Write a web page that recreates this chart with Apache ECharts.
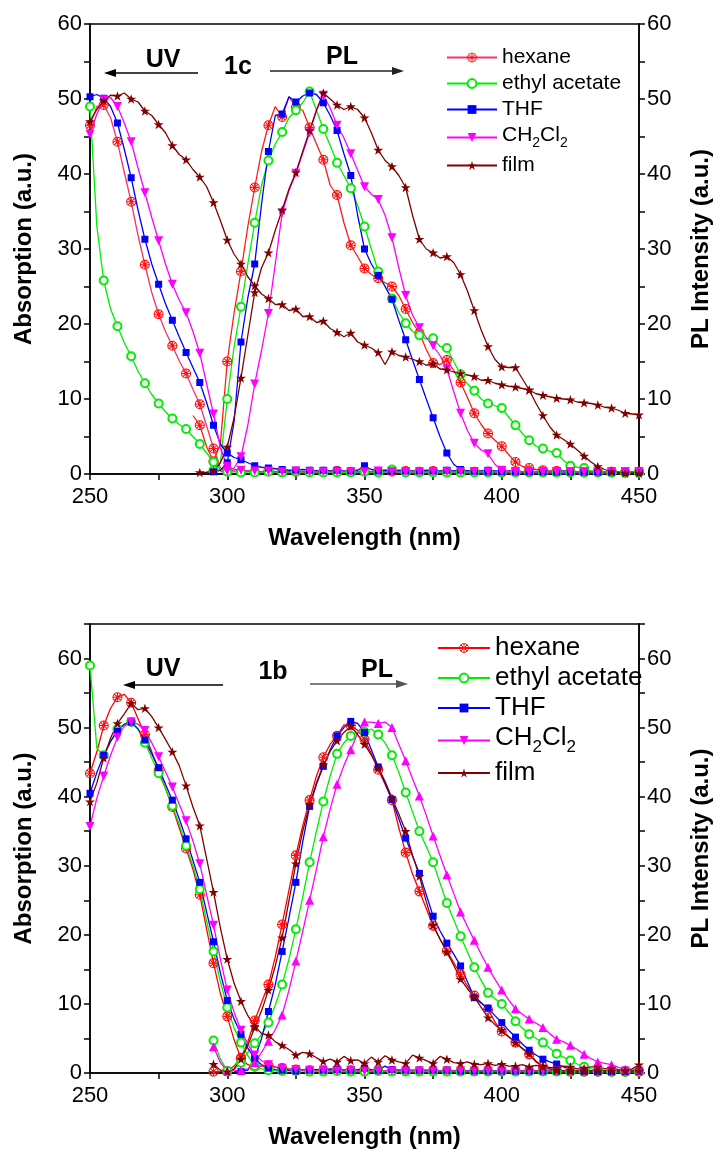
<!DOCTYPE html>
<html><head><meta charset="utf-8">
<script src="https://cdn.jsdelivr.net/npm/echarts@6/dist/echarts.min.js"></script>
<style>html,body{margin:0;padding:0;background:#fff}#c{width:721px;height:1158px}</style>
</head><body><div id="c"></div>
<script>
// common wavelength grid (nm), rows of 8 points = 20 nm
const wavelength = [
250,252.5,255,257.5,260,262.5,265,267.5,
270,272.5,275,277.5,280,282.5,285,287.5,
290,292.5,295,297.5,300,302.5,305,307.5,
310,312.5,315,317.5,320,322.5,325,327.5,
330,332.5,335,337.5,340,342.5,345,347.5,
350,352.5,355,357.5,360,362.5,365,367.5,
370,372.5,375,377.5,380,382.5,385,387.5,
390,392.5,395,397.5,400,402.5,405,407.5,
410,412.5,415,417.5,420,422.5,425,427.5,
430,432.5,435,437.5,440,442.5,445,447.5,
450];
const xTicks = [250,300,350,400,450];
const yTicks = [0,10,20,30,40,50,60];
const names = ['hexane','ethyl acetate','THF','CH2Cl2','film'];
const N = null;

// ===== panel 1c (top) =====
const c_hexane_uv = [
46.5,49.0,49.2,47.5,44.3,40.2,36.3,31.8,
27.9,24.2,21.3,19.0,17.1,15.1,13.4,11.3,
9.3,6.4,3.4,0.8,0.5,0.4,0.3,0.4,
0.3,0.3,0.4,0.3,0.3,0.4,0.3,0.3,
0.3,0.4,0.3,0.3,0.4,0.3,0.3,0.3,
0.4,0.3,0.3,0.5,0.3,0.3,0.4,0.3,
0.3,0.3,0.4,0.3,0.3,0.3,0.3,0.3,
0.3,0.3,0.3,0.3,0.2,0.3,0.3,0.3,
0.3,0.2,0.3,0.3,0.3,0.2,0.3,0.3,
0.2,0.3,0.3,0.2,0.3,0.3,0.2,0.3,
0.3];
const c_hexane_pl = [
N,N,N,N,N,N,N,N,
N,N,N,N,N,N,N,7.8,
6.5,3.6,1.7,4.0,15.0,21.5,27.0,33.0,
38.2,43.0,46.5,49.0,47.6,50.3,48.9,48.5,
46.2,44.0,41.9,38.5,37.2,33.5,30.5,29.0,
27.4,26.6,26.1,25.5,25.0,23.8,22.0,20.2,
18.8,16.6,14.8,14.6,15.2,13.8,12.2,10.2,
8.1,6.6,5.4,4.5,3.7,2.6,1.6,1.0,
0.8,0.6,0.5,0.4,0.4,0.3,0.3,0.3,
0.3,0.3,0.3,0.2,0.3,0.3,0.2,0.3,
0.3];
const c_ea_uv = [
49.0,33.0,25.8,22.0,19.7,17.5,15.7,13.7,
12.1,10.6,9.4,8.3,7.4,6.6,6.0,5.0,
4.0,2.8,1.6,0.6,0.3,0.3,0.2,0.3,
0.2,0.2,0.3,0.2,0.2,0.2,0.3,0.2,
0.2,0.2,0.2,0.3,0.2,0.2,0.2,0.2,
0.3,0.2,0.2,0.2,0.6,0.2,0.2,0.2,
0.2,0.2,0.2,0.2,0.2,0.2,0.2,0.2,
0.2,0.2,0.2,0.2,0.2,0.2,0.2,0.2,
0.2,0.2,0.2,0.2,0.2,0.2,0.2,0.2,
0.2,0.2,0.2,0.2,0.2,0.2,0.2,0.2,
0.2];
const c_ea_pl = [
N,N,N,N,N,N,N,N,
N,N,N,N,N,N,N,N,
N,0.3,0.5,1.5,10.0,17.0,22.3,28.0,
33.5,38.5,41.8,44.0,45.6,47.5,48.5,49.5,
51.0,48.5,46.0,43.8,41.5,39.8,38.1,35.8,
33.0,30.0,27.0,25.0,23.4,21.5,20.1,19.0,
18.5,18.0,18.1,17.0,16.8,15.0,13.3,12.0,
11.1,10.0,9.4,9.1,8.8,7.6,6.5,5.4,
4.5,3.7,3.4,3.0,2.8,1.8,1.1,0.9,
0.8,0.4,0.3,0.2,0.2,0.2,0.2,0.2,
0.2];
const c_thf_uv = [
50.3,50.6,50.1,49.0,46.8,43.3,39.5,35.2,
31.3,28.0,25.3,22.7,20.5,18.3,16.2,14.2,
12.2,9.5,6.5,4.0,2.8,2.2,1.9,1.5,
1.1,0.9,0.8,0.7,0.6,0.5,0.5,0.6,
0.5,0.4,0.5,0.4,0.5,0.4,0.4,0.5,
1.1,0.6,0.4,0.5,0.4,0.5,0.4,0.4,
0.4,0.5,0.4,0.4,0.5,0.4,0.5,0.4,
0.4,0.4,0.5,0.4,0.4,0.4,0.4,0.3,
0.4,0.3,0.4,0.3,0.3,0.4,0.3,0.3,
0.3,0.3,0.3,0.3,0.3,0.3,0.3,0.3,
0.3];
const c_thf_pl = [
N,N,N,N,N,N,N,N,
N,N,N,N,N,N,N,N,
N,N,0.3,0.5,1.5,7.0,17.6,23.5,
28.0,36.0,43.0,47.8,48.0,50.3,49.6,50.4,
50.8,50.6,49.5,47.8,45.8,42.7,39.8,34.5,
30.0,28.0,26.5,25.0,23.3,20.5,17.9,15.2,
12.6,10.0,7.5,5.0,2.8,1.3,0.6,0.4,
0.4,0.3,0.3,0.3,0.3,0.3,0.3,0.3,
0.3,0.3,0.3,0.3,0.3,0.3,0.3,0.3,
0.3,0.3,0.3,0.3,0.3,0.3,0.3,0.3,
0.3];
const c_ch_uv = [
45.3,48.0,49.9,50.2,49.0,46.8,44.3,40.8,
37.5,34.2,31.1,28.0,25.3,23.2,21.5,19.0,
16.1,12.0,8.0,3.5,1.0,0.6,0.5,0.4,
0.4,0.3,0.4,0.3,0.3,0.3,0.4,0.3,
0.3,0.3,0.3,0.3,0.3,0.4,0.3,0.3,
0.3,0.3,0.4,0.3,0.3,0.3,0.3,0.3,
0.3,0.3,0.3,0.3,0.3,0.3,0.3,0.3,
0.3,0.3,0.3,0.3,0.3,0.3,0.3,0.3,
0.3,0.3,0.3,0.3,0.3,0.3,0.3,0.3,
0.3,0.3,0.3,0.3,0.3,0.3,0.3,0.3,
0.3];
const c_ch_pl = [
N,N,N,N,N,N,N,N,
N,N,N,N,N,N,N,N,
N,N,N,0.3,0.4,0.8,2.3,6.5,
12.0,16.5,21.4,28.0,34.8,37.8,40.1,42.8,
45.5,48.5,50.5,48.8,46.5,44.8,42.7,40.5,
38.3,37.3,36.6,34.5,31.5,27.5,23.8,21.2,
19.5,18.2,17.1,15.8,14.0,11.0,8.1,5.8,
4.1,3.2,2.7,1.3,0.5,0.4,0.3,0.3,
0.3,0.3,0.3,0.3,0.3,0.3,0.3,0.3,
0.3,0.3,0.3,0.3,0.3,0.3,0.3,0.3,
0.3];
const c_film_uv = [
47.0,48.6,49.8,50.5,50.4,50.8,50.0,49.6,
48.4,47.8,46.6,45.5,43.8,42.6,41.9,40.6,
39.6,38.3,36.2,33.8,31.2,29.3,28.0,26.3,
25.1,24.0,23.4,22.6,22.6,21.8,22.0,21.0,
21.0,20.2,20.4,19.4,18.9,18.3,18.8,17.6,
17.2,16.8,16.2,14.6,16.3,15.8,15.6,15.3,
15.0,14.5,14.7,14.0,13.9,13.6,13.4,13.2,
13.0,12.5,12.5,12.1,11.9,11.7,11.6,11.4,
11.2,10.7,10.5,10.3,10.1,10.0,9.9,9.6,
9.5,9.4,9.2,8.9,8.8,8.5,8.1,8.0,
7.9];
const c_film_pl = [
N,N,N,N,N,N,N,N,
N,N,N,N,N,N,N,N,
0.2,0.2,0.4,1.5,3.6,7.5,12.8,18.5,
24.2,27.5,29.5,32.5,35.2,38.0,40.2,43.0,
45.8,48.5,50.8,50.0,49.2,48.6,49.0,48.6,
47.5,45.5,43.2,41.8,41.0,39.8,38.2,34.5,
31.3,30.0,29.5,28.8,29.0,28.2,26.6,24.4,
21.8,19.2,17.0,15.3,14.3,14.2,14.2,12.7,
11.2,9.4,7.8,6.3,5.2,4.6,4.0,3.2,
2.4,1.6,1.0,0.6,0.3,0.2,0.1,0.1,
0.1];

// ===== panel 1b (bottom) =====
const b_hexane_uv = [
43.4,46.5,50.3,52.8,54.4,54.8,53.6,51.3,
49.0,46.5,43.8,41.2,38.5,35.5,32.5,29.5,
25.8,20.8,15.9,11.5,8.2,4.8,2.1,1.2,
0.9,1.0,1.1,0.8,0.7,0.6,0.5,0.5,
0.4,0.5,0.4,0.4,0.5,0.4,0.4,0.4,
0.4,0.3,0.4,0.3,0.3,0.4,0.3,0.3,
0.3,0.3,0.3,0.3,0.3,0.3,0.3,0.3,
0.3,0.3,0.3,0.3,0.3,0.3,0.3,0.3,
0.3,0.3,0.3,0.3,0.3,0.3,0.3,0.3,
0.3,0.3,0.3,0.3,0.3,0.3,0.3,0.3,
0.3];
const b_hexane_pl = [
N,N,N,N,N,N,N,N,
N,N,N,N,N,N,N,N,
N,N,0.2,0.2,0.3,1.0,2.2,4.5,
7.6,10.2,12.8,16.8,21.5,26.5,31.5,35.8,
39.5,43.0,45.7,47.6,48.8,50.4,50.3,49.6,
48.3,46.2,43.9,41.8,39.5,35.5,31.9,28.8,
26.3,23.8,21.3,19.4,17.7,16.0,14.3,12.6,
11.2,10.2,9.2,7.4,6.0,5.2,4.4,3.5,
2.7,1.6,0.9,0.6,0.4,0.3,0.2,0.2,
0.2,0.2,0.2,0.2,0.2,0.2,0.2,0.2,
0.2];
const b_ea_uv = [
59.0,47.0,46.0,48.0,49.8,50.5,50.8,49.8,
47.8,45.6,43.4,41.2,38.7,36.0,32.9,30.0,
26.6,22.0,17.6,13.2,9.5,6.5,4.4,2.5,
1.0,0.6,0.4,0.3,0.3,0.3,0.3,0.3,
0.2,0.3,0.2,0.2,0.3,0.2,0.2,0.2,
0.2,0.2,0.3,0.2,0.2,0.2,0.2,0.2,
0.2,0.2,0.2,0.2,0.2,0.2,0.2,0.2,
0.2,0.2,0.2,0.2,0.2,0.2,0.2,0.2,
0.2,0.2,0.2,0.2,0.2,0.2,0.2,0.2,
0.2,0.2,0.2,0.2,0.2,0.2,0.2,0.2,
0.2];
const b_ea_pl = [
N,N,N,N,N,N,N,N,
N,N,N,N,N,N,N,N,
N,N,4.7,2.0,0.3,0.5,1.5,3.0,
4.3,5.6,7.3,9.8,12.8,16.5,20.8,25.5,
30.5,35.0,39.3,43.0,46.2,47.8,48.8,49.2,
49.4,49.8,49.0,47.8,46.0,43.5,40.6,37.8,
35.0,32.8,30.5,27.5,24.6,22.2,19.8,17.5,
15.3,13.4,11.6,10.8,10.0,8.8,7.5,6.5,
5.6,5.0,4.4,3.6,2.8,2.3,1.8,1.3,
0.9,0.6,0.4,0.3,0.2,0.2,0.2,0.2,
0.2];
const b_thf_uv = [
40.5,43.5,46.0,48.0,49.5,50.5,50.8,49.8,
48.2,46.2,44.2,41.8,39.5,36.8,33.9,30.8,
27.6,23.3,19.0,14.5,10.5,7.8,5.6,3.6,
2.1,1.2,0.7,0.5,0.4,0.4,0.3,0.4,
0.4,0.5,0.4,0.6,0.5,0.4,0.4,0.5,
0.7,0.5,0.4,1.0,0.5,0.4,0.4,0.4,
0.4,0.4,0.4,0.3,0.4,0.3,0.3,0.3,
0.3,0.3,0.3,0.3,0.3,0.3,0.3,0.3,
0.3,0.3,0.3,0.3,0.3,0.3,0.3,0.3,
0.3,0.3,0.3,0.3,0.3,0.3,0.3,0.3,
0.3];
const b_thf_pl = [
N,N,N,N,N,N,N,N,
N,N,N,N,N,N,N,N,
N,N,N,N,N,0.2,0.2,0.4,
2.1,5.0,8.9,12.8,17.6,22.5,27.6,33.5,
38.6,41.8,44.4,46.8,48.8,50.0,50.9,50.6,
49.3,46.8,44.3,42.0,39.6,36.8,34.0,31.4,
28.9,25.8,22.7,20.6,18.8,17.2,15.5,13.2,
10.9,10.1,9.4,8.3,7.3,6.2,5.2,4.2,
3.3,2.6,2.0,1.6,1.3,0.9,0.5,0.3,
0.2,0.2,0.2,0.2,0.2,0.2,0.2,0.2,
0.2];
const b_ch_uv = [
35.7,39.8,43.0,46.0,48.6,50.2,50.8,50.5,
49.6,47.8,45.8,43.6,41.4,38.9,36.5,33.6,
30.3,25.8,21.4,16.5,12.0,8.8,6.2,4.2,
2.6,1.8,1.2,0.9,0.7,0.5,0.5,0.4,
0.4,0.3,0.4,0.3,0.3,0.3,0.4,0.3,
0.3,0.3,0.3,0.3,0.3,0.3,0.3,0.3,
0.3,0.3,0.3,0.3,0.3,0.3,0.3,0.3,
0.3,0.3,0.3,0.3,0.3,0.3,0.3,0.3,
0.3,0.3,0.3,0.3,0.3,0.3,0.3,0.3,
0.3,0.3,0.3,0.3,0.3,0.3,0.3,0.3,
0.3];
const b_ch_pl = [
N,N,N,N,N,N,N,N,
N,N,N,N,N,N,N,N,
N,N,3.8,1.5,0.3,0.3,0.4,0.6,
1.5,3.0,4.6,6.3,8.4,12.0,16.2,20.5,
25.0,29.5,34.2,38.2,41.8,44.5,46.8,49.2,
50.8,50.8,50.6,50.8,50.0,47.6,45.2,42.6,
40.1,37.3,34.3,31.5,28.7,26.0,23.3,21.2,
19.2,17.2,15.3,13.6,12.0,10.6,9.3,8.5,
7.8,7.2,6.6,5.7,4.9,4.5,4.0,3.4,
2.7,2.1,1.6,1.4,1.2,0.8,0.5,0.4,
0.4];
const b_film_uv = [
39.3,42.0,45.6,48.5,50.6,52.0,53.5,52.6,
52.8,51.6,50.0,48.3,46.5,44.5,41.6,38.5,
35.8,31.0,26.2,21.0,16.5,13.0,10.4,8.3,
6.8,5.7,5.5,4.5,4.0,3.4,2.6,3.0,
2.8,2.2,1.7,2.0,1.6,2.4,1.8,1.9,
1.4,2.3,1.6,2.5,1.9,1.6,1.4,2.6,
2.2,1.8,1.4,2.4,2.0,1.5,1.4,1.6,
1.3,1.2,1.4,1.1,1.3,1.0,1.0,1.2,
0.9,1.1,0.9,0.8,0.7,1.0,0.9,0.6,
0.7,0.9,0.9,0.6,0.7,0.5,0.4,0.6,
1.2];
const b_film_pl = [
N,N,N,N,N,N,N,N,
N,N,N,N,N,N,N,N,
N,N,1.3,0.4,0.2,0.6,2.0,4.0,
6.6,9.0,12.0,15.5,19.6,25.0,30.3,35.0,
38.8,42.0,44.6,46.6,48.1,49.3,50.2,49.0,
47.6,46.0,44.2,42.2,39.8,37.5,35.0,31.5,
28.5,24.8,21.4,19.4,17.5,15.6,13.6,12.2,
11.0,9.5,8.0,7.0,6.2,5.3,4.4,3.6,
2.8,1.7,1.0,0.6,0.4,0.3,0.3,0.3,
0.3,0.3,0.3,0.3,0.3,0.3,0.3,0.3,
0.3];

// ===== styling =====
const FONT = 'Liberation Sans, Arial, sans-serif';
const CROSS = 'path://M0,10A10,10 0 1,1 20,10A10,10 0 1,1 0,10Z M3,3L17,17 M17,3L3,17 M10,0L10,20 M0,10L20,10';
const STAR = 'path://M50,0L61.2,34.5L97.6,34.5L68.2,55.9L79.4,90.5L50,69.1L20.6,90.5L31.8,55.9L2.4,34.5L38.8,34.5Z';
const MK = {
  'hexane': {symbol: CROSS, size: 9, color: '#ff1010', hollow: true},
  'ethyl acetate': {symbol: 'emptyCircle', size: 8, color: '#00ee00'},
  'THF': {symbol: 'rect', size: 7, color: '#0000ff'},
  'CH2Cl2': {symbol: 'triangle', size: 9, color: '#ff00ff'},
  'film': {symbol: STAR, size: 10, color: '#800000'}
};

function pts(arr) {
  const out = [];
  arr.forEach((v, i) => {
    if (v === null) return;
    if (i % 2 === 0) out.push([wavelength[i], v]);
    else out.push({value: [wavelength[i], v], symbol: 'none'});
  });
  return out;
}
function line(id, name, arr, xi, yi, lineColor, rotate) {
  const st = MK[name];
  return {
    type: 'line', name: id, xAxisIndex: xi, yAxisIndex: yi,
    data: pts(arr),
    symbol: st.symbol, symbolSize: st.size, symbolRotate: rotate, symbolKeepAspect: true,
    showSymbol: true, animation: false, clip: true,
    lineStyle: {color: lineColor, width: 1.3},
    itemStyle: st.hollow ? {color: 'rgba(255,255,255,0)', borderColor: st.color, borderWidth: 1.1}
                         : {color: st.color},
    emphasis: {disabled: true}
  };
}

const series = [
  line('c:hexane','hexane',c_hexane_uv,0,0,'#f4336a',0),
  line('c:hexane','hexane',c_hexane_pl,0,1,'#ff1a1a',0),
  line('c:ethyl acetate','ethyl acetate',c_ea_uv,0,0,'#00ee00',0),
  line('c:ethyl acetate','ethyl acetate',c_ea_pl,0,1,'#00ee00',0),
  line('c:THF','THF',c_thf_uv,0,0,'#0000ff',0),
  line('c:THF','THF',c_thf_pl,0,1,'#0000ff',0),
  line('c:CH2Cl2','CH2Cl2',c_ch_uv,0,0,'#ff00ff',180),
  line('c:CH2Cl2','CH2Cl2',c_ch_pl,0,1,'#ff00ff',180),
  line('c:film','film',c_film_uv,0,0,'#800000',0),
  line('c:film','film',c_film_pl,0,1,'#800000',0),
  line('b:hexane','hexane',b_hexane_uv,1,2,'#ff0000',0),
  line('b:hexane','hexane',b_hexane_pl,1,3,'#ff0000',0),
  line('b:ethyl acetate','ethyl acetate',b_ea_uv,1,2,'#00ee00',0),
  line('b:ethyl acetate','ethyl acetate',b_ea_pl,1,3,'#00ee00',0),
  line('b:THF','THF',b_thf_uv,1,2,'#0000ff',0),
  line('b:THF','THF',b_thf_pl,1,3,'#0000ff',0),
  line('b:CH2Cl2','CH2Cl2',b_ch_uv,1,2,'#ff00ff',180),
  line('b:CH2Cl2','CH2Cl2',b_ch_pl,1,3,'#ff00ff',0),
  line('b:film','film',b_film_uv,1,2,'#800000',0),
  line('b:film','film',b_film_pl,1,3,'#800000',0)
];

function xAxis(gi) {
  return {
    type: 'value', gridIndex: gi, min: 250, max: 450, interval: 25,
    name: 'Wavelength (nm)', nameLocation: 'middle', nameGap: 52,
    nameTextStyle: {fontFamily: FONT, fontWeight: 'bold', fontSize: 24, color: '#000'},
    axisLine: {show: true, lineStyle: {color: '#000', width: 1.5}},
    axisTick: {show: true, length: 6, lineStyle: {color: '#000', width: 1.5}},
    axisLabel: {fontFamily: FONT, fontSize: 22, color: '#000', margin: 12,
      formatter: v => (xTicks.indexOf(v) >= 0 ? String(v) : '')},
    splitLine: {show: false}
  };
}
function yAxis(gi, pos, max, name, gap) {
  return {
    type: 'value', gridIndex: gi, position: pos, min: 0, max: max, interval: 5,
    name: name, nameLocation: 'middle', nameGap: gap,
    nameTextStyle: {fontFamily: FONT, fontWeight: 'bold', fontSize: 24, color: '#000'},
    axisLine: {show: true, onZero: false, lineStyle: {color: '#000', width: 1.5}},
    axisTick: {show: true, length: 6, lineStyle: {color: '#000', width: 1.5}},
    axisLabel: {fontFamily: FONT, fontSize: 22, color: '#000', margin: 8,
      formatter: v => (yTicks.indexOf(v) >= 0 ? String(v) : '')},
    splitLine: {show: false}
  };
}

function legend(prefix, left, top, fs, w, gap) {
  const sub = Math.round(fs * 0.66);
  const p = Math.round(fs * 0.2);
  const q = fs + p - sub;
  const r = {
    n: {fontFamily: FONT, fontSize: fs, lineHeight: fs, color: '#000'},
    m: {fontFamily: FONT, fontSize: fs, lineHeight: fs, padding: [0, 0, p, 0], color: '#000'},
    s: {fontFamily: FONT, fontSize: sub, lineHeight: sub, padding: [q, 0, 0, 0], color: '#000'}
  };
  return {
    data: names.map(n => prefix + n), orient: 'vertical', left: left, top: top,
    itemWidth: w, itemHeight: 11, itemGap: gap, selectedMode: false,
    itemStyle: {borderWidth: 1},
    formatter: nm => {
      const n = nm.slice(2);
      return n === 'CH2Cl2' ? '{m|CH}{s|2}{m|Cl}{s|2}' : '{n|' + n + '}';
    },
    textStyle: {fontFamily: FONT, fontSize: fs, color: '#000', rich: r}
  };
}

function arrow(x1, x2, y, color) {
  const dir = x2 > x1 ? 1 : -1;
  return [
    {type: 'line', shape: {x1: x1, y1: y, x2: x2 - dir * 8, y2: y}, style: {stroke: color, lineWidth: 1.6}, silent: true},
    {type: 'polygon', shape: {points: [[x2, y], [x2 - dir * 12, y - 4], [x2 - dir * 12, y + 4]]}, style: {fill: color}, silent: true}
  ];
}
function label(text, x, y) {
  return {type: 'text', x: x, y: y, silent: true,
    style: {text: text, font: 'bold 25px ' + FONT, fill: '#000', align: 'center', verticalAlign: 'middle',
      textAlign: 'center', textVerticalAlign: 'middle'}};
}

const option = {
  backgroundColor: '#fff',
  animation: false,
  grid: [
    {left: 90, top: 24, width: 555, height: 450, show: true, borderColor: '#000', borderWidth: 1.5, backgroundColor: 'transparent'},
    {left: 90, top: 624, width: 555, height: 449, show: true, borderColor: '#000', borderWidth: 1.5, backgroundColor: 'transparent'}
  ],
  xAxis: [xAxis(0), xAxis(1)],
  yAxis: [
    yAxis(0, 'left', 60, 'Absorption (a.u.)', 54),
    yAxis(0, 'right', 60, 'PL Intensity (a.u.)', 50),
    yAxis(1, 'left', 65, 'Absorption (a.u.)', 54),
    yAxis(1, 'right', 65, 'PL Intensity (a.u.)', 50)
  ],
  legend: [legend('c:', 441, 42, 21, 50, 5), legend('b:', 432, 630, 26, 52, 4)],
  graphic: [
    label('UV', 163, 60), ...arrow(198, 104, 73, '#000'),
    label('1c', 238, 67),
    label('PL', 342, 57), ...arrow(270, 404, 71, '#222'),
    label('UV', 163, 669), ...arrow(223, 123, 685, '#000'),
    label('1b', 273, 672),
    label('PL', 377, 670), ...arrow(310, 408, 684, '#555')
  ],
  series: series
};
const chart = echarts.init(document.getElementById('c'), null, {renderer: 'canvas'});
chart.setOption(option);
</script></body></html>
